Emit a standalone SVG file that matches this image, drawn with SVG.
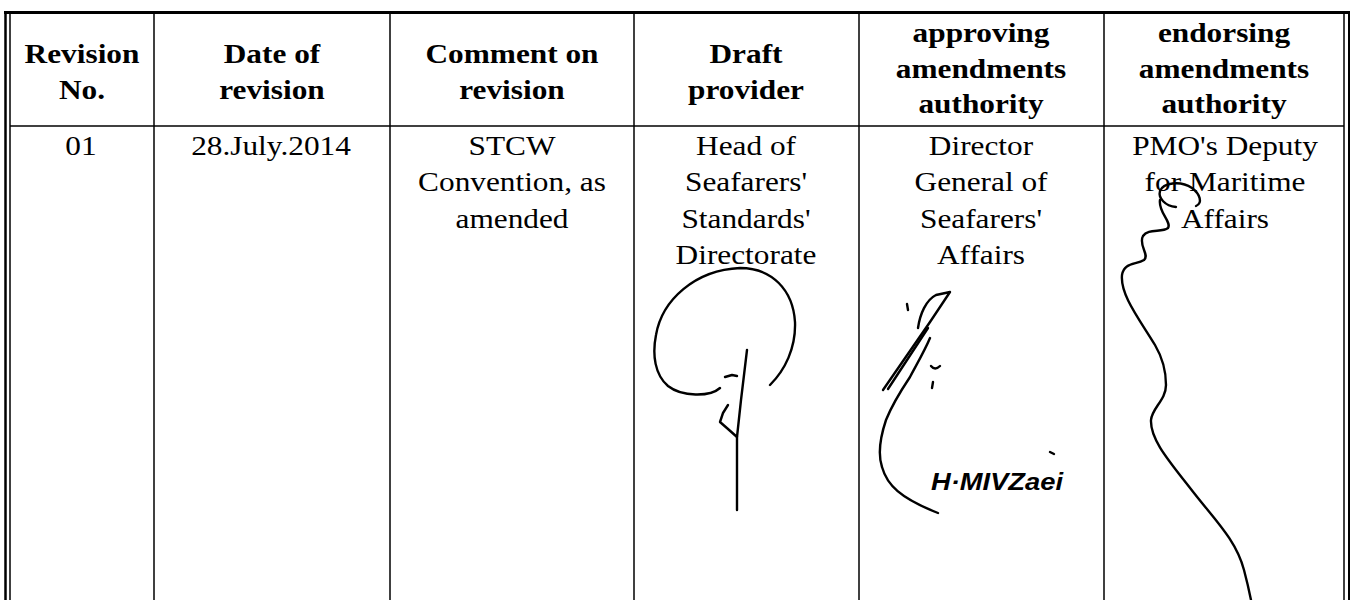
<svg xmlns="http://www.w3.org/2000/svg" width="1356" height="600" viewBox="0 0 1356 600">
<style>
.hd{font-family:"Liberation Serif","Times New Roman",serif;font-weight:bold;font-size:27px;fill:#000;text-anchor:middle}
.bd{font-family:"Liberation Serif","Times New Roman",serif;font-size:27px;fill:#000;text-anchor:middle}
.ln{stroke:#000;fill:none}
.sig{stroke:#000;fill:none;stroke-width:2.4;stroke-linecap:round;stroke-linejoin:round}
</style>
<rect width="1356" height="600" fill="#fff"/>
<g id="grid">
  <line class="ln" x1="4" y1="12.5" x2="1350" y2="12.5" stroke-width="3"/>
  <line class="ln" x1="5.5" y1="11" x2="5.5" y2="600" stroke-width="2.5"/>
  <line class="ln" x1="10" y1="14" x2="10" y2="600" stroke-width="1.5"/>
  <line class="ln" x1="1344" y1="14" x2="1344" y2="600" stroke-width="1.5"/>
  <line class="ln" x1="1349" y1="11" x2="1349" y2="600" stroke-width="2"/>
  <line class="ln" x1="10" y1="126" x2="1344" y2="126" stroke-width="1.5"/>
  <line class="ln" x1="154" y1="14" x2="154" y2="600" stroke-width="1.5"/>
  <line class="ln" x1="390" y1="14" x2="390" y2="600" stroke-width="1.5"/>
  <line class="ln" x1="634" y1="14" x2="634" y2="600" stroke-width="1.5"/>
  <line class="ln" x1="859" y1="14" x2="859" y2="600" stroke-width="1.5"/>
  <line class="ln" x1="1104" y1="14" x2="1104" y2="600" stroke-width="1.5"/>
</g>
<g id="col-revision-no">
  <text class="hd" transform="translate(82,0) scale(1.16,1)"><tspan x="0" y="63">Revision</tspan><tspan x="0" y="99">No.</tspan></text>
  <text class="bd" transform="translate(81,0) scale(1.16,1)"><tspan x="0" y="155">01</tspan></text>
</g>
<g id="col-date">
  <text class="hd" transform="translate(272,0) scale(1.16,1)"><tspan x="0" y="63">Date of</tspan><tspan x="0" y="99">revision</tspan></text>
  <text class="bd" transform="translate(271,0) scale(1.16,1)"><tspan x="0" y="155">28.July.2014</tspan></text>
</g>
<g id="col-comment">
  <text class="hd" transform="translate(512,0) scale(1.16,1)"><tspan x="0" y="63">Comment on</tspan><tspan x="0" y="99">revision</tspan></text>
  <text class="bd" transform="translate(512,0) scale(1.16,1)"><tspan x="0" y="155">STCW</tspan><tspan x="0" y="191.5">Convention, as</tspan><tspan x="0" y="228">amended</tspan></text>
</g>
<g id="col-draft-provider">
  <text class="hd" transform="translate(746,0) scale(1.16,1)"><tspan x="0" y="63">Draft</tspan><tspan x="0" y="99">provider</tspan></text>
  <text class="bd" transform="translate(746,0) scale(1.16,1)"><tspan x="0" y="155">Head of</tspan><tspan x="0" y="191.5">Seafarers'</tspan><tspan x="0" y="228">Standards'</tspan><tspan x="0" y="264">Directorate</tspan></text>
  <path class="sig" d="M720,388 C710,397 682,397 668,386 C655,375 652,355 656,335 C662,300 695,270 740,268 C772,268 793,290 795,322 C796,348 785,370 770,385"/>
  <path class="sig" stroke-width="3" d="M747,350 L741,400 L737,437 L737,510"/>
  <path class="sig" stroke-width="2" d="M728,405 L723,413 L720,422 L728,429 L737,437"/>
  <path class="sig" stroke-width="1.6" d="M725,377 L732,375 L737,376"/>
</g>
<g id="col-approving">
  <text class="hd" transform="translate(981,0) scale(1.16,1)"><tspan x="0" y="42">approving</tspan><tspan x="0" y="78">amendments</tspan><tspan x="0" y="113">authority</tspan></text>
  <text class="bd" transform="translate(981,0) scale(1.16,1)"><tspan x="0" y="155">Director</tspan><tspan x="0" y="191.5">General of</tspan><tspan x="0" y="228">Seafarers'</tspan><tspan x="0" y="264">Affairs</tspan></text>
  <path class="sig" stroke-width="2" d="M907,304 L908,310"/>
  <path class="sig" d="M918,328 C920,314 926,300 936,295 L950,292 C944,301 938,310 930,322 L883,390"/>
  <path class="sig" stroke-width="2" d="M928,328 L888,389"/>
  <path class="sig" d="M930,338 C925,350 918,362 910,377 C900,392 892,405 886,420 C880,438 878,455 882,467 C887,485 900,498 938,513"/>
  <path class="sig" stroke-width="2" d="M931,366 Q935,371 940,366"/>
  <path class="sig" stroke-width="2" d="M933,382 L932,388"/>
  <path class="sig" stroke-width="2" d="M1050,452 L1054,454"/>
  <text x="931" y="490" textLength="132" lengthAdjust="spacingAndGlyphs" font-family="Liberation Sans, Arial, sans-serif" font-style="italic" font-weight="bold" font-size="24" fill="#000">H·MIVZaei</text>
</g>
<g id="col-endorsing">
  <text class="hd" transform="translate(1224,0) scale(1.16,1)"><tspan x="0" y="42">endorsing</tspan><tspan x="0" y="78">amendments</tspan><tspan x="0" y="113">authority</tspan></text>
  <text class="bd" transform="translate(1225,0) scale(1.16,1)"><tspan x="0" y="155">PMO's Deputy</tspan><tspan x="0" y="191.5">for Maritime</tspan><tspan x="0" y="228">Affairs</tspan></text>
  <path class="sig" d="M1176,207 C1165,206 1158,198 1160,191 C1163,183 1180,180 1192,188 C1200,194 1203,203 1196,206"/>
  <path class="sig" d="M1160,200 C1158,212 1172,222 1168,228 C1162,233 1148,228 1143,236 C1138,245 1150,255 1144,260 C1136,265 1124,262 1122,275 C1120,295 1140,320 1155,345 C1165,362 1166,375 1166,385 C1166,400 1152,408 1151,420 C1150,440 1170,462 1194,493 C1215,520 1236,540 1244,570 C1248,585 1250,595 1251,600"/>
</g>
</svg>
